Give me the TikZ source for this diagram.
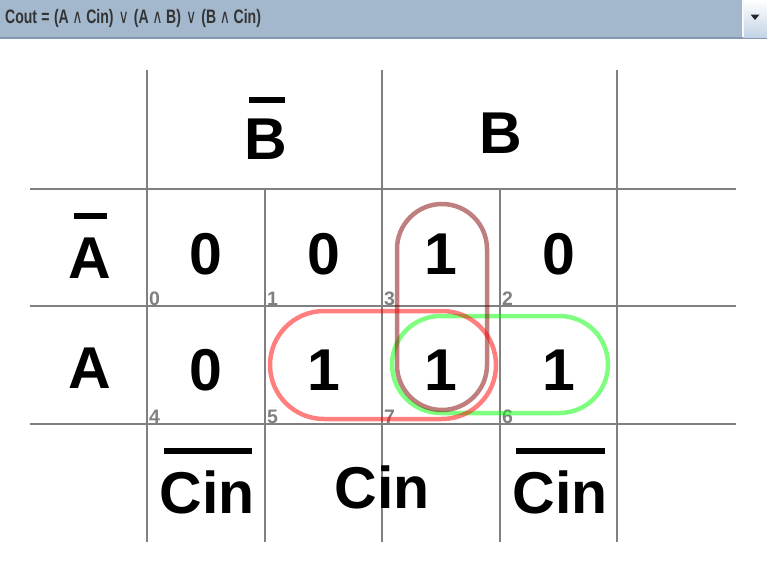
\documentclass[tikz,border=0pt]{standalone}
\usepackage{fontspec}
\setmainfont{Liberation Sans}
\newfontfamily\symfont{DejaVu Sans}
\usepackage{graphicx}
\definecolor{barbg}{HTML}{A3B8CC}
\definecolor{barline}{HTML}{8499B0}
\definecolor{textdark}{HTML}{333333}
\definecolor{gridgray}{HTML}{808080}
\definecolor{btntop}{HTML}{FFFFFF}
\definecolor{btnbot}{HTML}{C3D4E6}
\definecolor{loopbrown}{HTML}{800000}
\begin{document}
\begin{tikzpicture}[x=1pt,y=-1pt,
  gridline/.style={draw=gridgray,line width=2pt},
  big/.style={font=\fontsize{59}{60}\selectfont\bfseries,anchor=base,inner sep=0pt},
  idx/.style={font=\fontsize{19.5}{19}\selectfont\bfseries,text=gridgray,anchor=base west,inner sep=0pt},
  barmark/.style={fill=black,draw=none},
  looppath/.style={line width=4.5pt,opacity=0.5}]
\useasboundingbox (0,0) rectangle (767,573);
\fill[white] (0,0) rectangle (767,573);
% top bar
\fill[barbg] (0,0) rectangle (742,38);
\fill[barline] (0,37) rectangle (767,39);
\shade[top color=btntop,bottom color=btnbot] (743,0) rectangle (767,37);
\fill[white!90!barbg] (742,0) rectangle (743.5,37);
\fill[black!85] (750.5,14.5) -- (759.5,14.5) -- (755,20) -- cycle;
\node[anchor=base west,inner sep=0pt,text=textdark,font=\fontsize{19.5}{19}\selectfont\bfseries] (formula) at (5,23.5)
  {\scalebox{0.72}[1]{Cout\hspace{6pt}=\hspace{6pt}(A\hspace{5pt}{\symfont\mdseries ∧}\hspace{5pt}Cin)\hspace{7pt}{\symfont\mdseries ∨}\hspace{7pt}(A\hspace{5pt}{\symfont\mdseries ∧}\hspace{5pt}B)\hspace{7pt}{\symfont\mdseries ∨}\hspace{7pt}(B\hspace{5pt}{\symfont\mdseries ∧}\hspace{5pt}Cin)}};
% grid
\draw[gridline] (147,70) -- (147,542);
\draw[gridline] (382,70) -- (382,542);
\draw[gridline] (617,70) -- (617,542);
\draw[gridline] (265,189) -- (265,542);
\draw[gridline] (500,189) -- (500,542);
\draw[gridline] (30,189) -- (736,189);
\draw[gridline] (30,306) -- (736,306);
\draw[gridline] (30,424) -- (736,424);
% headers
\node[big] (hBn) at (266,159) {B};
\fill[barmark] (249,97) rectangle (285,103);
\node[big] (hB) at (501,153) {B};
\node[big] (hAn) at (89.5,278) {A};
\fill[barmark] (74,213) rectangle (107,219);
\node[big] (hA) at (89.5,388) {A};
\node[big] (hCn1) at (207,513) {Cin};
\fill[barmark] (164,448) rectangle (252,454);
\node[big] (hC) at (382.5,508) {Cin};
\node[big] (hCn2) at (560,513) {Cin};
\fill[barmark] (516,448) rectangle (605,454);
% cell values
\node[big] (v0) at (206,274) {0};
\node[big] (v1) at (323.5,274) {0};
\node[big] (v3) at (441,274) {1};
\node[big] (v2) at (558.5,274) {0};
\node[big] (v4) at (206,390) {0};
\node[big] (v5) at (323.5,390) {1};
\node[big] (v7) at (441,390) {1};
\node[big] (v6) at (558.5,390) {1};
% cell indices
\node[idx] (i0) at (149,305) {0};
\node[idx] (i1) at (267,305) {1};
\node[idx] (i3) at (384,305) {3};
\node[idx] (i2) at (502,305) {2};
\node[idx] (i4) at (149,423) {4};
\node[idx] (i5) at (267,423) {5};
\node[idx] (i7) at (384,423) {7};
\node[idx] (i6) at (502,423) {6};
% groupings
\draw[looppath,draw=green,rounded corners=48.5pt] (392,316) rectangle (608,413);
\draw[looppath,draw=loopbrown,rounded corners=45pt] (397,204) rectangle (487,410);
\draw[looppath,draw=red,rounded corners=54pt] (270,311) rectangle (496,419);
\end{tikzpicture}
\end{document}
